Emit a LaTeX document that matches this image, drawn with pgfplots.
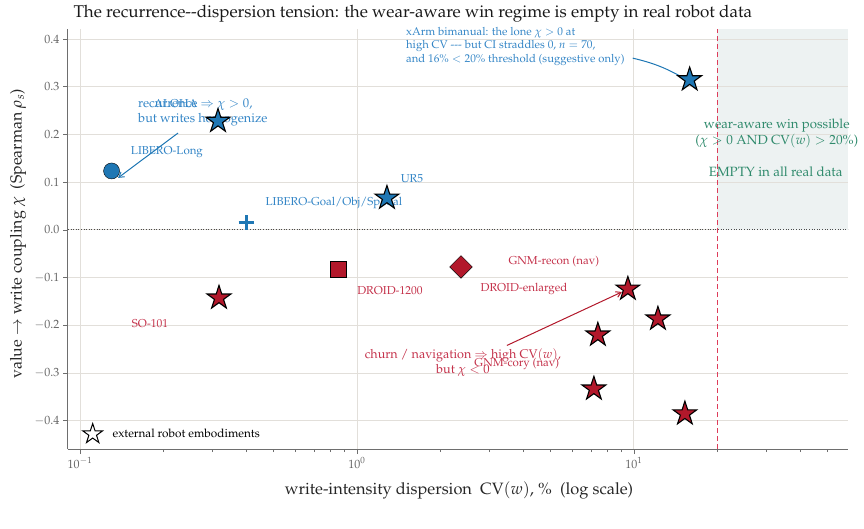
\documentclass[border=0pt]{standalone}
\usepackage[T1]{fontenc}
\usepackage{mathpazo}
\usepackage{pgfplots}
\pgfplotsset{compat=1.18}
\usetikzlibrary{arrows.meta}
\definecolor{cblue}{HTML}{1F77B4}
\definecolor{cred}{HTML}{B2182B}
\definecolor{tblue}{HTML}{3385C6}
\definecolor{tred}{HTML}{C4314A}
\definecolor{tgreen}{HTML}{2F8A6C}
\definecolor{regionc}{HTML}{EDF2F2}
\definecolor{dashred}{RGB}{222,60,90}
\definecolor{gridc}{HTML}{E2DFDA}
\definecolor{spinec}{HTML}{6E6E6E}
\definecolor{tickc}{HTML}{666666}

\pgfdeclareplotmark{fstar}{%
  \pgfpathmoveto{\pgfpointpolar{90}{\pgfplotmarksize}}%
  \pgfpathlineto{\pgfpointpolar{126}{0.382\pgfplotmarksize}}%
  \pgfpathlineto{\pgfpointpolar{162}{\pgfplotmarksize}}%
  \pgfpathlineto{\pgfpointpolar{198}{0.382\pgfplotmarksize}}%
  \pgfpathlineto{\pgfpointpolar{234}{\pgfplotmarksize}}%
  \pgfpathlineto{\pgfpointpolar{270}{0.382\pgfplotmarksize}}%
  \pgfpathlineto{\pgfpointpolar{306}{\pgfplotmarksize}}%
  \pgfpathlineto{\pgfpointpolar{342}{0.382\pgfplotmarksize}}%
  \pgfpathlineto{\pgfpointpolar{18}{\pgfplotmarksize}}%
  \pgfpathlineto{\pgfpointpolar{54}{0.382\pgfplotmarksize}}%
  \pgfpathclose
  \pgfusepathqfillstroke}

\newcommand{\fs}[1]{\fontsize{#1}{1.2\dimexpr#1pt\relax}\selectfont}

\begin{document}
\begin{tikzpicture}
\path (0,0) rectangle (864pt,528pt);
\begin{axis}[
  at={(68pt,79pt)}, anchor=south west,
  scale only axis, width=780pt, height=420pt,
  xmode=log, xmin=0.0905, xmax=59.3, ymin=-0.459, ymax=0.421,
  xtick={0.1,1,10},
  minor xtick={0.2,0.3,0.4,0.5,0.6,0.7,0.8,0.9,2,3,4,5,6,7,8,9,20,30,40,50},
  ytick={-0.4,-0.3,-0.2,-0.1,0,0.1,0.2,0.3,0.4},
  yticklabel style={/pgf/number format/.cd, fixed, fixed zerofill, precision=1},
  grid=major, grid style={gridc, line width=0.9pt},
  axis x line*=bottom, axis y line*=left,
  axis line style={spinec, line width=1pt, -},
  tick align=outside, major tick length=5pt, minor tick length=3pt,
  tick style={spinec, line width=0.8pt},
  ticklabel style={text=tickc, font=\fs{12}},
  clip=false,
  legend style={at={(0.0186,0.038)}, anchor=west, draw=none, fill=none, inner sep=0pt, font=\fs{11.8}},
  legend cell align=left,
]
% shaded region
\fill[regionc] (axis cs:20,0) rectangle (axis cs:59.3,0.421);
\draw[gridc, line width=0.9pt] (axis cs:20,0.1) -- (axis cs:59.3,0.1)
  (axis cs:20,0.2) -- (axis cs:59.3,0.2) (axis cs:20,0.3) -- (axis cs:59.3,0.3)
  (axis cs:20,0.4) -- (axis cs:59.3,0.4);
\addplot[forget plot, color=dashred, line width=1.5pt, dash pattern=on 5pt off 3pt, mark=none] coordinates {(20,-0.459) (20,0.421)};
\draw[black!70, line width=0.9pt, dash pattern=on 1pt off 1.6pt] (axis cs:0.0905,0) -- (axis cs:59.3,0);

% legend
\addlegendimage{only marks, mark=fstar, mark size=10.5pt, mark options={fill=white, draw=black, line width=1pt}}
\addlegendentry{\hspace*{8pt}external robot embodiments}

% point labels
\node[text=tblue, font=\fs{11.5}] at (axis cs:0.222,0.264) {ALOHA};
\node[text=tblue, font=\fs{11.5}] at (axis cs:0.206,0.163) {LIBERO-Long};
\node[text=tblue, font=\fs{11.5}] at (axis cs:1.58,0.107) {UR5};
\node[text=tblue, font=\fs{11.5}] at (axis cs:0.826,0.0565) {LIBERO-Goal/Obj/Spatial};
\node[text=tred, font=\fs{11.5}] at (axis cs:1.315,-0.128) {DROID-1200};
\node[text=tred, font=\fs{11.5}] at (axis cs:4.01,-0.1236) {DROID-enlarged};
\node[text=tred, font=\fs{11.5}] at (axis cs:5.14,-0.067) {GNM-recon (nav)};
\node[text=tred, font=\fs{11.5}] at (axis cs:0.179,-0.197) {SO-101};
\node[text=tred, font=\fs{11.5}] at (axis cs:3.78,-0.281) {GNM-cory (nav)};

% annotations
\node[text=tblue, font=\fs{11.3}, align=left, anchor=west, inner sep=0pt] at (axis cs:1.503,0.385)
  {xArm bimanual: the lone $\chi>0$ at\\ high CV -{}-{}- but CI straddles 0, $n=70$,\\ and 16\%${}<{}$20\% threshold (suggestive only)};
\draw[cblue, line width=1pt] (axis cs:9.9,0.360) to[bend left=8] (axis cs:15.15,0.318);

\node[text=tblue, font=\fs{12.7}, align=left, anchor=west, inner sep=0pt] at (axis cs:0.162,0.246)
  {recurrence $\Rightarrow$ $\chi>0$,\\ but writes homogenize};
\draw[cblue, line width=1pt, -{Straight Barb[length=5pt, width=6pt]}] (axis cs:0.2259,0.203) -- (axis cs:0.1372,0.109);

\node[text=tred, font=\fs{12.6}, align=center, inner sep=0pt] at (axis cs:2.414,-0.2785)
  {churn / navigation $\Rightarrow$ high CV$(w)$,\\ but $\chi<0$};
\draw[cred, line width=1pt, -{Straight Barb[length=5pt, width=6pt]}] (axis cs:3.48,-0.242) -- (axis cs:9.05,-0.130);

\node[text=tgreen, font=\fs{13.2}, align=center] at (axis cs:32.8,0.202)
  {wear-aware win possible\\ ($\chi>0$ AND CV$(w)>20\%$)};
\node[text=tgreen, font=\fs{13.4}] at (axis cs:32.5,0.1215) {EMPTY in all real data};

% markers
\addplot[forget plot, only marks, mark=*, mark size=8pt, mark options={fill=cblue, draw=none}] coordinates {(0.130,0.1236)};
\addplot[forget plot, only marks, mark=+, mark size=7.5pt, mark options={draw=cblue, line width=3pt}] coordinates {(0.398,0.0147)};
\addplot[forget plot, only marks, mark=square*, mark size=8pt, mark options={fill=cred, draw=none}] coordinates {(0.853,-0.0817)};
\addplot[forget plot, only marks, mark=square*, mark size=8pt, mark options={fill=cred, draw=none, rotate=45}] coordinates {(2.375,-0.0775)};
\addplot[forget plot, only marks, mark=fstar, mark size=12.5pt, mark options={fill=cblue, draw=black, line width=1.1pt}] coordinates {
  (15.9,0.315) (0.315,0.228) (1.283,0.067)};
\addplot[forget plot, only marks, mark=fstar, mark size=12.5pt, mark options={fill=cred, draw=black, line width=1.1pt}] coordinates {
  (0.3176,-0.1424) (9.51,-0.1236) (12.21,-0.1864) (7.41,-0.2199) (7.17,-0.333) (15.28,-0.385)};
\end{axis}
\node[anchor=base west, font=\fs{17}, text=black!90] at (70pt,510pt)
  {The recurrence-{}-dispersion tension: the wear-aware win regime is empty in real robot data};
\node[font=\fs{16.4}, text=black!85] at (459pt,38pt)
  {write-intensity dispersion\ \ CV$(w)$, \%\ \ (log scale)};
\node[font=\fs{16}, text=black!85, rotate=90] at (18pt,294pt)
  {value $\rightarrow$ write coupling $\chi$\ \ (Spearman $\rho_s$)};
\end{tikzpicture}
\end{document}
